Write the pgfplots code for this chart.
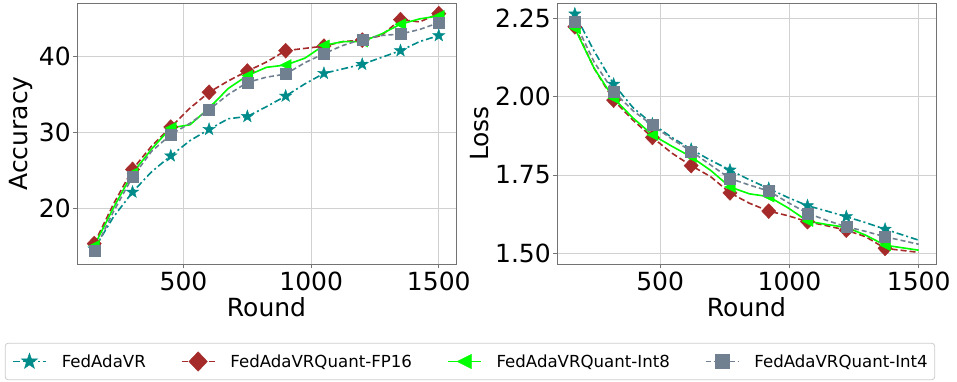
\documentclass[border=0pt]{standalone}
\usepackage{fontspec}
\setmainfont{DejaVu Sans}
\usepackage{pgfplots}
\pgfplotsset{compat=1.18}
\usetikzlibrary{plotmarks}

\definecolor{cteal}{RGB}{0,139,139}
\definecolor{cbrown}{RGB}{165,42,42}
\definecolor{clime}{RGB}{0,255,0}
\definecolor{cslate}{RGB}{112,128,144}

\pgfdeclareplotmark{fstar}{%
  \pgfpathmoveto{\pgfpointpolar{90}{\pgfplotmarksize}}%
  \pgfpathlineto{\pgfpointpolar{126}{0.4\pgfplotmarksize}}%
  \pgfpathlineto{\pgfpointpolar{162}{\pgfplotmarksize}}%
  \pgfpathlineto{\pgfpointpolar{198}{0.4\pgfplotmarksize}}%
  \pgfpathlineto{\pgfpointpolar{234}{\pgfplotmarksize}}%
  \pgfpathlineto{\pgfpointpolar{270}{0.4\pgfplotmarksize}}%
  \pgfpathlineto{\pgfpointpolar{306}{\pgfplotmarksize}}%
  \pgfpathlineto{\pgfpointpolar{342}{0.4\pgfplotmarksize}}%
  \pgfpathlineto{\pgfpointpolar{18}{\pgfplotmarksize}}%
  \pgfpathlineto{\pgfpointpolar{54}{0.4\pgfplotmarksize}}%
  \pgfpathclose\pgfusepathqfillstroke}
\pgfdeclareplotmark{fdiamond}{%
  \pgfpathmoveto{\pgfqpoint{0pt}{\pgfplotmarksize}}%
  \pgfpathlineto{\pgfqpoint{0.95\pgfplotmarksize}{0pt}}%
  \pgfpathlineto{\pgfqpoint{0pt}{-\pgfplotmarksize}}%
  \pgfpathlineto{\pgfqpoint{-0.95\pgfplotmarksize}{0pt}}%
  \pgfpathclose\pgfusepathqfillstroke}
\pgfdeclareplotmark{ftril}{%
  \pgfpathmoveto{\pgfqpoint{-\pgfplotmarksize}{0pt}}%
  \pgfpathlineto{\pgfqpoint{\pgfplotmarksize}{\pgfplotmarksize}}%
  \pgfpathlineto{\pgfqpoint{\pgfplotmarksize}{-\pgfplotmarksize}}%
  \pgfpathclose\pgfusepathqfillstroke}

\pgfplotsset{
  myaxis/.style={
    scale only axis, width=379pt, height=261pt,
    xtick={500,1000,1500},
    xtick pos=bottom, ytick pos=left,
    grid=major, grid style={black!18, line width=0.8pt},
    axis line style={black!55, line width=0.8pt},
    tick align=outside, major tick length=4pt,
    major tick style={black!55, line width=0.8pt},
    tick label style={font=\fontsize{25}{30}\selectfont},
    label style={font=\fontsize{25}{30}\selectfont},
    /pgf/number format/assume math mode=true,
    /pgf/number format/1000 sep={},
    xticklabel style={inner sep=0pt, anchor=north, yshift=-4pt},
    yticklabel style={inner sep=0pt, anchor=east, xshift=-2pt},
    xlabel style={at={(axis description cs:0.5,0)}, anchor=base, yshift=-52.5pt, inner sep=0pt},
    xlabel={Round},
    mark repeat=2,
    legend image code/.code={\draw[mark repeat=2,mark phase=2,##1] plot coordinates {(0pt,0pt) (16.5pt,0pt) (33pt,0pt)};},
    legend image post style={every mark/.append style={scale=1.3}},
  },
  sVR/.style={color=cteal, line width=1.6pt, dash pattern=on 7pt off 3pt on 2pt off 3pt, mark=fstar, mark size=6.5pt, mark options={solid, fill=cteal, draw=cteal, line width=0.4pt}},
  sFP/.style={color=cbrown, line width=1.6pt, dash pattern=on 6pt off 3pt, mark=fdiamond, mark size=7.5pt, mark options={solid, fill=cbrown, draw=cbrown, line width=0.4pt}},
  sI8/.style={color=clime, line width=1.6pt, solid, mark=ftril, mark size=5.5pt, mark options={solid, fill=clime, draw=clime, line width=0.4pt}},
  sI4/.style={color=cslate, line width=1.6pt, dash pattern=on 5pt off 3pt, mark=square*, mark size=5.5pt, mark options={solid, fill=cslate, draw=cslate, line width=0.4pt}},
}

\begin{document}
\begin{tikzpicture}
\useasboundingbox (0pt,0pt) rectangle (957pt,381pt);
\begin{axis}[myaxis, at={(77pt,117pt)}, anchor=south west,
  xmin=82.5, xmax=1567.5, ymin=12.6, ymax=47.1,
  ytick={20,30,40},
  ylabel={Accuracy},
  ylabel style={at={(axis description cs:-0.1293,0.5)}, anchor=base, rotate=0, inner sep=0pt},
  legend columns=4,
  legend style={at={(axis description cs:1.0369,-0.3736)}, anchor=center,
    draw=black!20, rounded corners=3pt, line width=0.8pt,
    inner xsep=7pt, inner ysep=8.5pt,
    font=\fontsize{16.6}{20}\selectfont,
    /tikz/every even column/.append style={column sep=35pt},
    /tikz/every odd column/.append style={column sep=15pt},
    nodes={inner sep=0pt}},
]
\addplot[sVR] coordinates {(150,14.6)(225,18.8)(300,22.1)(375,24.8)(450,26.9)(525,28.9)(600,30.4)(675,31.8)(750,32.1)(825,33.4)(900,34.8)(975,36.4)(1050,37.8)(1125,38.4)(1200,39.0)(1275,39.9)(1350,40.8)(1425,42.0)(1500,42.8)};
\addlegendentry{FedAdaVR}
\addplot[sFP] coordinates {(150,15.3)(225,20.5)(300,25.1)(375,28.2)(450,30.7)(525,33.2)(600,35.3)(675,36.8)(750,38.1)(825,39.3)(900,40.8)(975,41.1)(1050,41.4)(1125,42.0)(1200,42.2)(1275,42.8)(1350,44.9)(1425,44.6)(1500,45.7)};
\addlegendentry{FedAdaVRQuant-FP16}
\addplot[sI8] coordinates {(150,15.0)(225,20.0)(300,24.6)(375,27.8)(450,30.6)(525,31.0)(600,33.2)(675,35.8)(750,37.5)(825,38.6)(900,38.9)(975,39.8)(1050,41.5)(1125,42.0)(1200,42.0)(1275,43.0)(1350,44.3)(1425,45.0)(1500,45.4)};
\addlegendentry{FedAdaVRQuant-Int8}
\addplot[sI4] coordinates {(150,14.3)(225,19.5)(300,24.1)(375,27.5)(450,29.7)(525,31.2)(600,33.0)(675,35.0)(750,36.6)(825,37.3)(900,37.7)(975,39.2)(1050,40.4)(1125,41.5)(1200,42.3)(1275,42.8)(1350,43.0)(1425,43.6)(1500,44.5)};
\addlegendentry{FedAdaVRQuant-Int4}
\end{axis}
\begin{axis}[myaxis, at={(557pt,117pt)}, anchor=south west,
  xmin=101, xmax=1567, ymin=1.466, ymax=2.299,
  ytick={1.5,1.75,2.0,2.25},
  yticklabel style={/pgf/number format/.cd, fixed, fixed zerofill, precision=2},
  ylabel={Loss},
  ylabel style={at={(axis description cs:-0.182,0.5)}, anchor=base, inner sep=0pt},
]
\addplot[sVR] coordinates {(170,2.264)(245,2.145)(320,2.04)(395,1.965)(470,1.913)(545,1.870)(620,1.832)(695,1.797)(770,1.766)(845,1.735)(920,1.707)(995,1.678)(1070,1.652)(1145,1.635)(1220,1.617)(1295,1.598)(1370,1.577)(1500,1.542)};
\addplot[sFP] coordinates {(170,2.223)(245,2.09)(320,1.989)(395,1.925)(470,1.870)(545,1.820)(620,1.780)(695,1.745)(770,1.693)(845,1.660)(920,1.635)(995,1.620)(1070,1.601)(1145,1.588)(1220,1.574)(1295,1.553)(1370,1.516)(1500,1.503)};
\addplot[sI8] coordinates {(170,2.218)(245,2.09)(320,1.995)(395,1.932)(470,1.878)(545,1.842)(620,1.808)(695,1.765)(770,1.712)(845,1.690)(920,1.681)(995,1.645)(1070,1.603)(1145,1.592)(1220,1.583)(1295,1.558)(1370,1.526)(1500,1.510)};
\addplot[sI4] coordinates {(170,2.239)(245,2.11)(320,2.016)(395,1.955)(470,1.909)(545,1.865)(620,1.826)(695,1.782)(770,1.739)(845,1.718)(920,1.699)(995,1.662)(1070,1.628)(1145,1.605)(1220,1.585)(1295,1.570)(1370,1.553)(1500,1.529)};
\end{axis}
\end{tikzpicture}
\end{document}
